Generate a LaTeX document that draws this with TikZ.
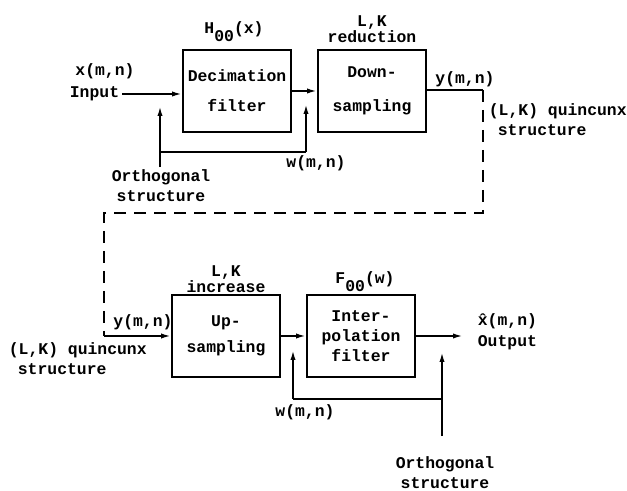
\documentclass[tikz,border=0pt]{standalone}
\usepackage{fontspec}
\setmonofont{Liberation Mono}
\usetikzlibrary{arrows.meta,positioning}

\begin{document}
\begin{tikzpicture}[x=0.5pt, y=-0.5pt, font=\fontsize{8.2}{10}\ttfamily\bfseries, line width=0.9pt]
\tikzstyle{box}=[draw, align=center, minimum width=54pt, minimum height=41pt, inner sep=1pt]
\tikzstyle{lbl}=[inner sep=1pt, align=center]
\tikzstyle{sig}=[-{Latex[length=5pt, width=2.6pt]}]
\useasboundingbox (0,0) rectangle (627,491);
% analysis side
\node[box] (dec) at (237,91) {Decimation\\[5pt]filter};
\node[box] (down) at (372,91) {Down-\\[7pt]sampling};
\node[lbl] at (234,32) {H\raisebox{-4pt}{00}(x)};
\node[lbl] at (372,29) {L,K\\[-2pt]reduction};
\node[lbl, anchor=east] (inp) at (122,94) {Input};
\node[lbl] at (105,71) {x(m,n)};
\node[lbl] (orth1) at (161,186) {Orthogonal\\structure};
\node[lbl] at (316,163) {w(m,n)};
\node[lbl] at (465,79) {y(m,n)};
\node[lbl, align=left, anchor=north west] at (486,101) {(L,K) quincunx\\\hspace*{4.5pt}structure};
\coordinate (t1) at (160,106);
\coordinate (j1) at (160,152);
\coordinate (j2) at (306,152);
\coordinate (t2) at (306,104);
\coordinate (c1) at (483,90);
\coordinate (c2) at (483,213);
\coordinate (c3) at (104,213);
\coordinate (c4) at (104,336);
\draw[sig] (inp) -- (inp -| dec.west);
\draw[sig] (dec) -- (down);
\draw[sig] (orth1.north -| t1) -- (t1);
\draw (j1) -- (j2);
\draw[sig] (j2) -- (t2);
\draw (down.east |- c1) -- (c1);
\draw[dashed, dash pattern=on 6pt off 4pt] (c1) -- (c2) -- (c3) -- (c4);
% synthesis side
\node[box] (up) at (226,336) {Up-\\[3pt]sampling};
\node[box] (interp) at (361,336) {Inter-\\polation\\filter};
\node[lbl] at (226,279) {L,K\\[-2pt]increase};
\node[lbl] at (365,282) {F\raisebox{-4pt}{00}(w)};
\node[lbl] at (143,322) {y(m,n)};
\node[lbl, align=left, anchor=north west] at (6,340) {(L,K) quincunx\\\hspace*{4.5pt}structure};
\node[lbl, anchor=west] (outp) at (475,343) {Output};
\node[lbl, anchor=west] at (475,321) {\^{x}(m,n)};
\node[lbl] (orth2) at (445,473) {Orthogonal\\structure};
\node[lbl] at (305,412) {w(m,n)};
\coordinate (t3) at (293,350);
\coordinate (j3) at (293,399);
\coordinate (j4) at (442,399);
\coordinate (t4) at (442,352);
\draw[sig] (c4) -- (c4 -| up.west);
\draw[sig] (up) -- (interp);
\draw[sig, shorten >=6pt] (interp) -- (interp -| outp.west);
\draw[sig] (j3) -- (t3);
\draw (j3) -- (j4);
\draw[sig, shorten <=9pt] (orth2.north -| t4) -- (t4);
\end{tikzpicture}
\end{document}
